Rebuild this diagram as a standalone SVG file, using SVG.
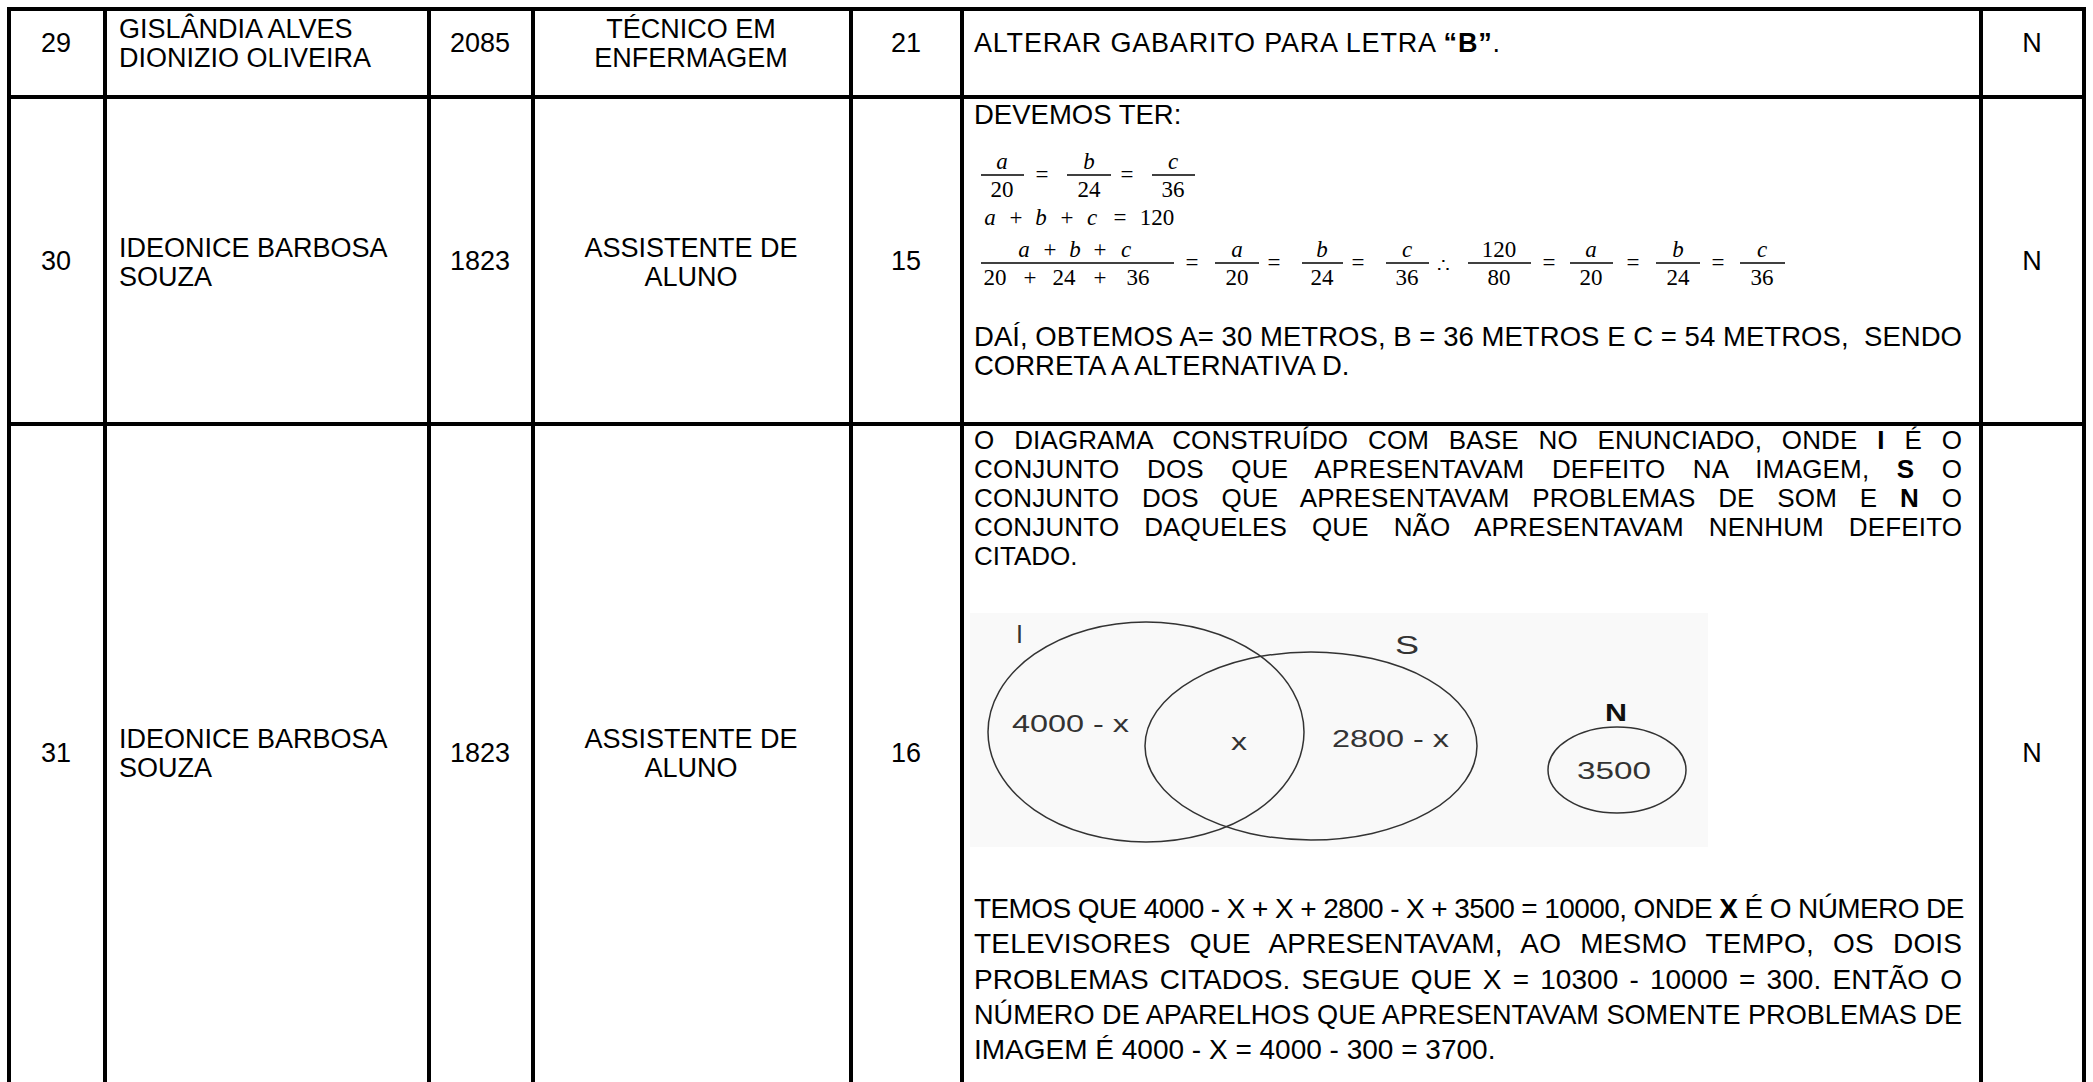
<svg xmlns="http://www.w3.org/2000/svg" width="2093" height="1082" viewBox="0 0 2093 1082">
<style>
.t{font-family:"Liberation Sans",Arial,sans-serif;font-size:27px;fill:#000}
.c{text-anchor:middle}
.p{font-size:26px}
.q{font-size:28px}
.b{font-weight:bold}
.m{font-family:"Liberation Serif","Times New Roman",serif;font-size:23px;fill:#000}
.mi{font-style:italic}
.sym{font-family:"DejaVu Serif","Liberation Serif",serif;font-size:20px}
.v{font-family:"Liberation Sans",Arial,sans-serif;font-size:23px;fill:#333}
.grid line{stroke:#000;stroke-width:4}
.bar{stroke:#000;stroke-width:1.4}
.ven{fill:none;stroke:#333;stroke-width:1.5}
</style>
<rect x="0" y="0" width="2093" height="1082" fill="#fff"/>

<g id="grid" class="grid">
  <line x1="7" y1="9" x2="2086" y2="9"/>
  <line x1="7" y1="97" x2="2086" y2="97"/>
  <line x1="7" y1="424" x2="2086" y2="424"/>
  <line x1="9" y1="7" x2="9" y2="1082"/>
  <line x1="105" y1="7" x2="105" y2="1082"/>
  <line x1="429" y1="7" x2="429" y2="1082"/>
  <line x1="533" y1="7" x2="533" y2="1082"/>
  <line x1="851" y1="7" x2="851" y2="1082"/>
  <line x1="962" y1="7" x2="962" y2="1082"/>
  <line x1="1981" y1="7" x2="1981" y2="1082"/>
  <line x1="2084" y1="7" x2="2084" y2="1082"/>
</g>

<g id="row29">
  <text class="t c" x="56" y="52">29</text>
  <text class="t" x="119" y="38">GISLÂNDIA ALVES</text>
  <text class="t" x="119" y="67">DIONIZIO OLIVEIRA</text>
  <text class="t c" x="480" y="52">2085</text>
  <text class="t c" x="691" y="38">TÉCNICO EM</text>
  <text class="t c" x="691" y="67">ENFERMAGEM</text>
  <text class="t c" x="906" y="52">21</text>
  <text class="t" x="974" y="52" textLength="526" lengthAdjust="spacing">ALTERAR GABARITO PARA LETRA <tspan class="b">“B”</tspan>.</text>
  <text class="t c" x="2032" y="52">N</text>
</g>

<g id="row30">
  <text class="t c" x="56" y="270">30</text>
  <text class="t" x="119" y="257">IDEONICE BARBOSA</text>
  <text class="t" x="119" y="286">SOUZA</text>
  <text class="t c" x="480" y="270">1823</text>
  <text class="t c" x="691" y="257">ASSISTENTE DE</text>
  <text class="t c" x="691" y="286">ALUNO</text>
  <text class="t c" x="906" y="270">15</text>
  <text class="t c" x="2032" y="270">N</text>
  <text class="t" x="974" y="124" style="font-size:27.5px">DEVEMOS TER:</text>
  <g id="math">
    <text class="m mi c" x="1002" y="169">a</text>
    <line class="bar" x1="981" y1="175" x2="1024" y2="175"/>
    <text class="m c" x="1002" y="197">20</text>
    <text class="m c" x="1042" y="182">=</text>
    <text class="m mi c" x="1089" y="169">b</text>
    <line class="bar" x1="1067" y1="175" x2="1111" y2="175"/>
    <text class="m c" x="1089" y="197">24</text>
    <text class="m c" x="1127" y="182">=</text>
    <text class="m mi c" x="1173" y="169">c</text>
    <line class="bar" x1="1152" y1="175" x2="1195" y2="175"/>
    <text class="m c" x="1173" y="197">36</text>

    <text class="m mi c" x="990" y="225">a</text>
    <text class="m c" x="1016" y="225">+</text>
    <text class="m mi c" x="1041" y="225">b</text>
    <text class="m c" x="1067" y="225">+</text>
    <text class="m mi c" x="1092" y="225">c</text>
    <text class="m c" x="1120" y="225">=</text>
    <text class="m c" x="1157" y="225">120</text>

    <text class="m mi c" x="1024" y="257">a</text>
    <text class="m c" x="1050" y="257">+</text>
    <text class="m mi c" x="1075" y="257">b</text>
    <text class="m c" x="1100" y="257">+</text>
    <text class="m mi c" x="1126" y="257">c</text>
    <line class="bar" x1="981" y1="263" x2="1174" y2="263"/>
    <text class="m c" x="995" y="285">20</text>
    <text class="m c" x="1030" y="285">+</text>
    <text class="m c" x="1064" y="285">24</text>
    <text class="m c" x="1100" y="285">+</text>
    <text class="m c" x="1138" y="285">36</text>
    <text class="m c" x="1192" y="270">=</text>

    <text class="m mi c" x="1237" y="257">a</text>
    <line class="bar" x1="1215" y1="263" x2="1259" y2="263"/>
    <text class="m c" x="1237" y="285">20</text>
    <text class="m c" x="1274" y="270">=</text>
    <text class="m mi c" x="1322" y="257">b</text>
    <line class="bar" x1="1302" y1="263" x2="1343" y2="263"/>
    <text class="m c" x="1322" y="285">24</text>
    <text class="m c" x="1358" y="270">=</text>
    <text class="m mi c" x="1407" y="257">c</text>
    <line class="bar" x1="1386" y1="263" x2="1429" y2="263"/>
    <text class="m c" x="1407" y="285">36</text>
    <text class="m sym c" x="1443" y="272">∴</text>
    <text class="m c" x="1499" y="257">120</text>
    <line class="bar" x1="1468" y1="263" x2="1531" y2="263"/>
    <text class="m c" x="1499" y="285">80</text>
    <text class="m c" x="1549" y="270">=</text>
    <text class="m mi c" x="1591" y="257">a</text>
    <line class="bar" x1="1570" y1="263" x2="1613" y2="263"/>
    <text class="m c" x="1591" y="285">20</text>
    <text class="m c" x="1633" y="270">=</text>
    <text class="m mi c" x="1678" y="257">b</text>
    <line class="bar" x1="1656" y1="263" x2="1700" y2="263"/>
    <text class="m c" x="1678" y="285">24</text>
    <text class="m c" x="1718" y="270">=</text>
    <text class="m mi c" x="1762" y="257">c</text>
    <line class="bar" x1="1740" y1="263" x2="1785" y2="263"/>
    <text class="m c" x="1762" y="285">36</text>
  </g>
  <text class="t" x="974" y="346" style="font-size:27.5px" textLength="988" lengthAdjust="spacing" xml:space="preserve">DAÍ, OBTEMOS A= 30 METROS, B = 36 METROS E C = 54 METROS,  SENDO</text>
  <text class="t" x="974" y="375" style="font-size:27.5px">CORRETA A ALTERNATIVA D.</text>
</g>

<g id="row31">
  <text class="t c" x="56" y="762">31</text>
  <text class="t" x="119" y="748">IDEONICE BARBOSA</text>
  <text class="t" x="119" y="777">SOUZA</text>
  <text class="t c" x="480" y="762">1823</text>
  <text class="t c" x="691" y="748">ASSISTENTE DE</text>
  <text class="t c" x="691" y="777">ALUNO</text>
  <text class="t c" x="906" y="762">16</text>
  <text class="t c" x="2032" y="762">N</text>

  <text class="t p" x="974" y="449" word-spacing="12.5" textLength="988" lengthAdjust="spacing">O DIAGRAMA CONSTRUÍDO COM BASE NO ENUNCIADO, ONDE <tspan class="b">I</tspan> É O</text>
  <text class="t p" x="974" y="478" word-spacing="20" textLength="988" lengthAdjust="spacing">CONJUNTO DOS QUE APRESENTAVAM DEFEITO NA IMAGEM, <tspan class="b">S</tspan> O</text>
  <text class="t p" x="974" y="507" word-spacing="15.4" textLength="988" lengthAdjust="spacing">CONJUNTO DOS QUE APRESENTAVAM PROBLEMAS DE SOM E <tspan class="b">N</tspan> O</text>
  <text class="t p" x="974" y="536" word-spacing="17.5" textLength="988" lengthAdjust="spacing">CONJUNTO DAQUELES QUE NÃO APRESENTAVAM NENHUM DEFEITO</text>
  <text class="t p" x="974" y="565">CITADO.</text>

  <g id="venn">
    <rect x="970" y="613" width="738" height="234" fill="#f9f9f9"/>
    <ellipse id="set-I" class="ven" cx="1146" cy="732" rx="158" ry="110"/>
    <ellipse id="set-S" class="ven" cx="1311" cy="746" rx="166" ry="94"/>
    <ellipse id="set-N" class="ven" cx="1617" cy="770" rx="69" ry="43"/>
    <text class="v" x="1016" y="643" style="font-size:25px">I</text>
    <text class="v" x="1395" y="654" style="font-size:26px" textLength="24" lengthAdjust="spacingAndGlyphs">S</text>
    <text class="v b" x="1605" y="721" style="font-size:24px;fill:#111" textLength="22" lengthAdjust="spacingAndGlyphs">N</text>
    <text class="v" x="1012" y="732" textLength="117" lengthAdjust="spacingAndGlyphs">4000 - x</text>
    <text class="v" x="1231" y="750" textLength="16" lengthAdjust="spacingAndGlyphs">x</text>
    <text class="v" x="1332" y="747" textLength="117" lengthAdjust="spacingAndGlyphs">2800 - x</text>
    <text class="v" x="1577" y="779" textLength="74" lengthAdjust="spacingAndGlyphs">3500</text>
  </g>

  <text class="t q" x="974" y="918" letter-spacing="-0.6">TEMOS QUE 4000 - X + X + 2800 - X + 3500 = 10000, ONDE <tspan class="b">X</tspan> É O NÚMERO DE</text>
  <text class="t q" x="974" y="953" word-spacing="11.1" textLength="988" lengthAdjust="spacing">TELEVISORES QUE APRESENTAVAM, AO MESMO TEMPO, OS DOIS</text>
  <text class="t q" x="974" y="989" word-spacing="3.3" textLength="988" lengthAdjust="spacing">PROBLEMAS CITADOS. SEGUE QUE X = 10300 - 10000 = 300. ENTÃO O</text>
  <text class="t q" x="974" y="1024" textLength="988" lengthAdjust="spacingAndGlyphs">NÚMERO DE APARELHOS QUE APRESENTAVAM SOMENTE PROBLEMAS DE</text>
  <text class="t q" x="974" y="1059">IMAGEM É 4000 - X = 4000 - 300 = 3700.</text>
</g>
</svg>
